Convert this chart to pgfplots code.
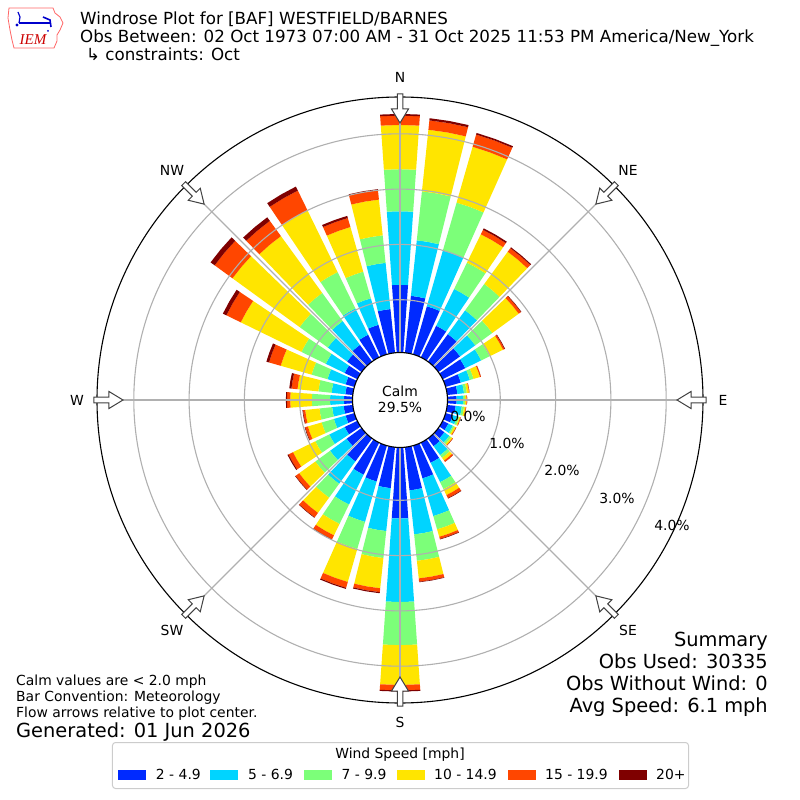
\documentclass[border=0pt]{standalone}
\usepackage{pgfplots}
\pgfplotsset{compat=1.18}
\usepackage{pgfplotstable}
\usepackage{fontspec}
\setmainfont{DejaVu Sans}
\newfontfamily\logofont{Liberation Serif}

\definecolor{c1}{RGB}{0,42,255}
\definecolor{c2}{RGB}{0,212,255}
\definecolor{c3}{RGB}{124,255,121}
\definecolor{c4}{RGB}{255,229,0}
\definecolor{c5}{RGB}{255,70,0}
\definecolor{c6}{RGB}{127,0,0}
\definecolor{gridgray}{RGB}{176,176,176}

% per-bin frequencies [%] for each direction (bearing, degrees)
\pgfplotstableread{
dir b1 b2 b3 b4 b5 b6
0   1.27 1.33 0.76 0.80 0.17 0.03
10  1.08 1.01 0.89 1.12 0.17 0.04
20  0.95 1.05 0.90 1.05 0.23 0.03
30  0.68 0.74 0.53 0.57 0.09 0.03
40  0.66 0.53 0.59 0.72 0.08 0.02
50  0.53 0.34 0.38 0.59 0.05 0.01
60  0.50 0.32 0.17 0.27 0.03 0.01
70  0.33 0.17 0.07 0.12 0.02 0.00
80  0.23 0.12 0.05 0.04 0.01 0.00
90  0.21 0.12 0.03 0.03 0.01 0.00
100 0.20 0.11 0.04 0.03 0.01 0.00
110 0.18 0.08 0.04 0.02 0.01 0.00
120 0.16 0.09 0.03 0.03 0.01 0.00
130 0.18 0.11 0.04 0.03 0.01 0.00
140 0.22 0.20 0.06 0.06 0.03 0.00
150 0.45 0.39 0.14 0.12 0.06 0.01
160 0.66 0.71 0.25 0.14 0.04 0.01
170 0.83 0.80 0.48 0.32 0.06 0.01
180 1.33 1.51 0.78 0.72 0.10 0.02
190 0.79 0.78 0.49 0.55 0.07 0.02
200 0.72 0.76 0.51 0.62 0.11 0.02
210 0.69 0.60 0.39 0.23 0.08 0.01
220 0.56 0.50 0.31 0.34 0.10 0.01
230 0.38 0.37 0.33 0.36 0.08 0.01
240 0.30 0.31 0.28 0.45 0.09 0.02
250 0.21 0.22 0.23 0.26 0.05 0.01
260 0.21 0.21 0.23 0.26 0.04 0.01
270 0.20 0.25 0.33 0.39 0.06 0.02
280 0.18 0.25 0.24 0.38 0.11 0.04
290 0.21 0.34 0.30 0.58 0.22 0.05
300 0.30 0.38 0.49 1.22 0.29 0.07
310 0.37 0.43 0.63 1.50 0.40 0.09
320 0.42 0.53 0.63 1.27 0.34 0.08
330 0.50 0.53 0.73 1.24 0.40 0.08
340 0.60 0.50 0.50 0.84 0.17 0.04
350 0.84 0.84 0.50 0.65 0.17 0.02
}\windtable

\newcommand\seg[2]{%
  \pgfplotstablegetelem{\rowi}{#1}\of\windtable
  \pgfmathsetmacro\rnew{\rcur+\pgfplotsretval}%
  \pgfmathsetmacro\aL{90-\bdir+4}%
  \pgfmathsetmacro\aM{90-\bdir}%
  \pgfmathsetmacro\aR{90-\bdir-4}%
  \edef\tmp{\noexpand\addplot[draw=none,fill=#2,data cs=polar,forget plot]
    coordinates {(\aL,\rcur) (\aL,\rnew) (\aM,\rnew) (\aR,\rnew) (\aR,\rcur) (\aM,\rcur) (\aL,\rcur)};}%
  \tmp
  \let\rcur\rnew
}

\begin{document}
\begin{tikzpicture}
\path[use as bounding box] (-400pt,-400pt) rectangle (400pt,400pt);

\begin{axis}[at={(0pt,0pt)}, anchor=center,
  x=55.3pt, y=55.3pt,
  xmin=-5.5, xmax=5.5, ymin=-5.5, ymax=5.5,
  hide axis, clip=false]
\pgfplotsforeachungrouped \rowi in {0,...,35}{%
  \pgfplotstablegetelem{\rowi}{dir}\of\windtable
  \let\bdir\pgfplotsretval
  \def\rcur{0.8137}%
  \seg{b1}{c1}\seg{b2}{c2}\seg{b3}{c3}\seg{b4}{c4}\seg{b5}{c5}\seg{b6}{c6}%
}
\end{axis}

% grid
\foreach \r in {100.3,155.6,210.9,266.2}
  \draw[gridgray, line width=1.1pt] (0,0) circle[radius=\r pt];
\foreach \b in {0,45,...,315}
  \draw[gridgray, line width=1.1pt] (0,0) -- ({90-\b}:303pt);
% calm disc
\draw[fill=white, draw=black, line width=1.1pt] (0,0) circle[radius=47.5pt];
% outer circle
\draw[black, line width=1.1pt] (0,0) circle[radius=303pt];
% flow arrows
\foreach \b in {0,45,...,315}
  \draw[fill=white, draw=black!75, line width=1pt, rotate=90-\b]
    (306pt,2.75pt) -- (291pt,2.75pt) -- (291pt,8.5pt) -- (277pt,0pt) -- (291pt,-8.5pt) -- (291pt,-2.75pt) -- (306pt,-2.75pt) -- cycle;

\begin{scope}[x=1pt, y=-1pt, shift={(-400pt,400pt)}]
  \def\lab{\fontsize{13.9}{16}\selectfont}
  % compass labels
  \node[font=\lab] at (400,77) {N};
  \node[font=\lab] at (628,170) {NE};
  \node[font=\lab] at (723,400) {E};
  \node[font=\lab] at (628,630) {SE};
  \node[font=\lab] at (400,722) {S};
  \node[font=\lab] at (172,630) {SW};
  \node[font=\lab] at (77,400) {W};
  \node[font=\lab] at (172,170) {NW};
  % ring labels
  \node[font=\lab] at (468,416) {0.0\%};
  \node[font=\lab] at (507,443) {1.0\%};
  \node[font=\lab] at (562,470) {2.0\%};
  \node[font=\lab] at (617,498) {3.0\%};
  \node[font=\lab] at (672,525) {4.0\%};
  % calm
  \node[font=\lab, align=center] at (400,399) {Calm\\29.5\%};
  % title
  \node[anchor=base west, font=\fontsize{16.7}{18}\selectfont, inner sep=0] at (80,25) {Windrose Plot for [BAF] WESTFIELD/BARNES};
  \node[anchor=base west, font=\fontsize{16.7}{18}\selectfont, inner sep=0] at (80,43) {Obs Between: 02 Oct 1973 07:00 AM - 31 Oct 2025 11:53 PM America/New\_York};
  \node[anchor=base west, font=\fontsize{16.7}{18}\selectfont, inner sep=0] at (86,61) {↳ constraints: Oct};
  % logo
  \draw[red!60, line width=0.8pt] (9,8) -- (53,8) -- (55,13) -- (60,17) -- (63,23) -- (60,30) -- (57,35) -- (57,41) -- (54,48) -- (14,48) -- (12,40) -- (10,30) -- (8,18) -- cycle;
  \draw[blue!80!black, line width=1.6pt] (19,23) -- (50,23);
  \draw[blue!80!black, line width=1.2pt] (18,12) -- (20,17) -- (19,23);
  \draw[blue!80!black, line width=1.6pt] (43,17) -- (50,20) -- (51,27);
  \fill[blue!80!black] (17,25) circle[radius=1.6pt];
  \fill[blue!80!black] (48,31) circle[radius=1pt];
  \node[red!80!black, font=\logofont\itshape\fontsize{15}{15}\selectfont, inner sep=0] at (33,40) {IEM};
  % bottom-left notes
  \node[anchor=base west, font=\lab, inner sep=0] at (16,685) {Calm values are < 2.0 mph};
  \node[anchor=base west, font=\lab, inner sep=0] at (16,701) {Bar Convention: Meteorology};
  \node[anchor=base west, font=\lab, inner sep=0] at (16,717) {Flow arrows relative to plot center.};
  \node[anchor=base west, font=\fontsize{19.4}{22}\selectfont, inner sep=0] at (16,737) {Generated: 01 Jun 2026};
  % summary
  \node[anchor=base east, font=\fontsize{19.4}{22}\selectfont, inner sep=0] at (768,646) {Summary};
  \node[anchor=base east, font=\fontsize{19.4}{22}\selectfont, inner sep=0] at (768,668) {Obs Used: 30335};
  \node[anchor=base east, font=\fontsize{19.4}{22}\selectfont, inner sep=0] at (768,690) {Obs Without Wind: 0};
  \node[anchor=base east, font=\fontsize{19.4}{22}\selectfont, inner sep=0] at (768,712) {Avg Speed: 6.1 mph};
  % legend
  \draw[draw=black!20, fill=white, rounded corners=3pt, line width=1pt] (112.5,742.5) rectangle (688.5,788.5);
  \node[anchor=base, font=\lab, inner sep=0] at (400,758.5) {Wind Speed [mph]};
  \fill[c1] (118,770) rectangle (146,779.5);
  \fill[c2] (210,770) rectangle (238,779.5);
  \fill[c3] (304,770) rectangle (332,779.5);
  \fill[c4] (396.5,770) rectangle (424.5,779.5);
  \fill[c5] (507.7,770) rectangle (535.7,779.5);
  \fill[c6] (618.5,770) rectangle (646.5,779.5);
  \node[anchor=base west, font=\lab, inner sep=0] at (155.8,779.5) {2 - 4.9};
  \node[anchor=base west, font=\lab, inner sep=0] at (248,779.5) {5 - 6.9};
  \node[anchor=base west, font=\lab, inner sep=0] at (341.5,779.5) {7 - 9.9};
  \node[anchor=base west, font=\lab, inner sep=0] at (434,779.5) {10 - 14.9};
  \node[anchor=base west, font=\lab, inner sep=0] at (545,779.5) {15 - 19.9};
  \node[anchor=base west, font=\lab, inner sep=0] at (656,779.5) {20+};
\end{scope}
\end{tikzpicture}
\end{document}
